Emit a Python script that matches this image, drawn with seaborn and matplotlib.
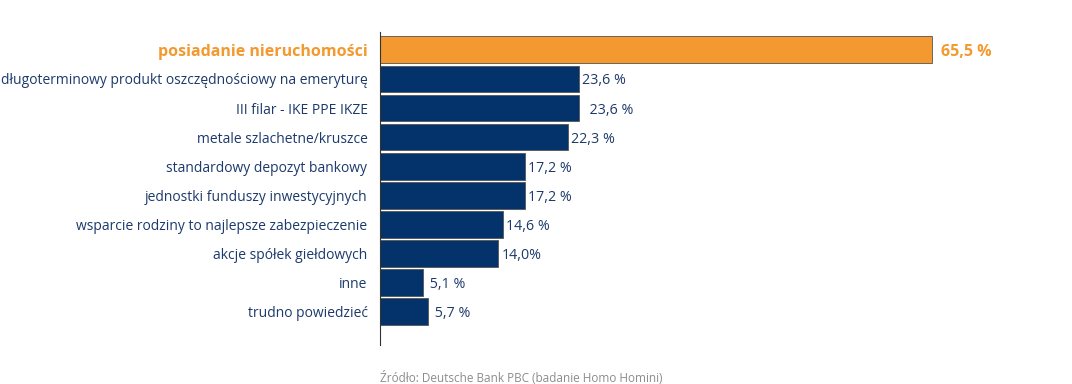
import matplotlib.pyplot as plt
import seaborn as sns

categories = [
    "posiadanie nieruchomości",
    "długoterminowy produkt oszczędnościowy na emeryturę",
    "III filar - IKE PPE IKZE",
    "metale szlachetne/kruszce",
    "standardowy depozyt bankowy",
    "jednostki funduszy inwestycyjnych",
    "wsparcie rodziny to najlepsze zabezpieczenie",
    "akcje spółek giełdowych",
    "inne",
    "trudno powiedzieć",
]
values = [65.5, 23.6, 23.6, 22.3, 17.2, 17.2, 14.6, 14.0, 5.1, 5.7]
value_labels = ["65,5 %", "23,6 %", "  23,6 %", "22,3 %", "17,2 %", "17,2 %",
                "14,6 %", "14,0%", " 5,1 %", " 5,7 %"]

orange = "#F4992F"
navy = "#03336A"
text_navy = "#1C3A6B"

sns.set_style("white")
plt.rcParams["font.family"] = ["Open Sans", "DejaVu Sans"]

fig = plt.figure(figsize=(10.72, 3.84), dpi=100)
ax = fig.add_axes([380 / 1072, 1 - 345 / 384, 660 / 1072, 313 / 384])

palette = [orange] + [navy] * (len(categories) - 1)
sns.barplot(x=values, y=categories, hue=categories, palette=palette, legend=False,
            orient="h", width=0.93, saturation=1, edgecolor="#555555",
            linewidth=0.6, ax=ax)

ax.set_xlim(0, 660 / 8.43)
ax.set_ylim(len(categories) - 1 + 1.17, -0.62)

for i, (v, lab) in enumerate(zip(values, value_labels)):
    if i == 0:
        ax.text(v + 1.1, i, lab, va="center_baseline", ha="left", fontsize=11.5,
                fontweight="bold", color=orange)
    else:
        ax.text(v + 0.4, i, lab, va="center_baseline", ha="left", fontsize=10.3,
                color=text_navy)

ax.set_yticks(range(len(categories)))
ax.set_yticklabels(categories)
for i, t in enumerate(ax.get_yticklabels()):
    if i == 0:
        t.set_color(orange)
        t.set_fontweight("bold")
        t.set_fontsize(11.5)
    else:
        t.set_color(text_navy)
        t.set_fontsize(10)
ax.tick_params(axis="y", length=0, pad=9)
ax.set_xticks([])
ax.set_xlabel("")
ax.set_ylabel("")

for side in ["top", "right", "bottom"]:
    ax.spines[side].set_visible(False)
ax.spines["left"].set_color("#333333")
ax.spines["left"].set_linewidth(0.8)

fig.text(380 / 1072, 1 - 378 / 384, "Źródło: Deutsche Bank PBC (badanie Homo Homini)",
         fontsize=8.5, color="#8c8c8c", ha="left", va="center")

fig.savefig("out.png", dpi=100)
